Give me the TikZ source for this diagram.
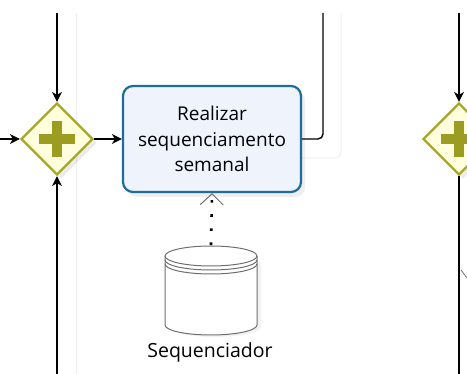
\documentclass[tikz,border=0pt]{standalone}
\usepackage{fontspec}
\setmainfont{Open Sans}
\usetikzlibrary{arrows.meta,shapes.geometric,shadows}
\definecolor{gwline}{RGB}{168,168,40}
\definecolor{gwfill}{RGB}{255,255,222}
\definecolor{gwplus}{RGB}{156,156,32}
\definecolor{taskline}{RGB}{30,108,156}
\definecolor{taskfill}{RGB}{239,243,252}
\definecolor{storeline}{RGB}{110,110,110}
\definecolor{ghost}{RGB}{238,238,238}
\tikzset{
  flow/.style={line width=1.4pt, black, -{Stealth[length=10pt,width=10pt,inset=3pt]}},
  plainflow/.style={line width=1.4pt, black},
  gateway/.style={diamond, draw=gwline, fill=gwfill, line width=2.2pt,
    minimum width=72pt, minimum height=72pt, inner sep=0pt,
    drop shadow={opacity=0.15, shadow xshift=4pt, shadow yshift=-4pt}},
  taskbox/.style={draw=taskline, fill=taskfill, line width=2.2pt, rounded corners=10pt,
    minimum width=178pt, minimum height=106pt, align=center, font=\fontsize{19}{25.5}\selectfont,
    drop shadow={opacity=0.13, shadow xshift=4pt, shadow yshift=-5pt}},
  assoc/.style={line width=2.6pt, dash pattern=on 2.6pt off 11.5pt,
    -{Straight Barb[length=11pt,width=23pt,line width=1pt,color=storeline]}},
  lbl/.style={font=\fontsize{19.5}{22}\selectfont, inner sep=0pt}
}
\newcommand{\gwplus}[1]{%
  \fill[gwplus] ([xshift=-18pt,yshift=-5pt]#1) rectangle ([xshift=18pt,yshift=5pt]#1);
  \fill[gwplus] ([xshift=-5pt,yshift=-18pt]#1) rectangle ([xshift=5pt,yshift=18pt]#1);}
\begin{document}
\begin{tikzpicture}[x=1pt,y=-1pt]
\useasboundingbox (0,0) rectangle (467,374);

% faint background guide lines
\draw[ghost, line width=1pt] (76,13) -- (76,374);
\draw[ghost, line width=1pt, rounded corners=6pt] (341,13) -- (341,158) -- (300,158);

% flow elements
\node[gateway] (g1) at (57,139) {};
\gwplus{g1.center}
\node[taskbox] (task) at (212,139) {Realizar\\sequenciamento\\semanal};
\node[gateway] (g2) at (459,139) {};
\gwplus{g2.center}

% data store: a cylinder with two extra rings below its lid
\fill[gray, opacity=0.10] (169,262) -- (169,327) arc[start angle=180, end angle=0, x radius=46, y radius=10]
  -- (261,262) -- cycle;
\filldraw[storeline, fill=white, line width=1pt]
  (165,256) -- (165,325) arc[start angle=180, end angle=0, x radius=46, y radius=10]
  -- (257,256) arc[start angle=0, end angle=-180, x radius=46, y radius=10] -- cycle;
\draw[storeline, line width=1pt] (165,256) arc[start angle=180, end angle=0, x radius=46, y radius=10];
\draw[storeline, line width=1pt] (165,260) arc[start angle=180, end angle=0, x radius=46, y radius=10];
\draw[storeline, line width=1pt] (165,264) arc[start angle=180, end angle=0, x radius=46, y radius=10];
\coordinate (store) at (211,245);
\node[lbl] (storelbl) at (210,352) {Sequenciador};

% connectors
\coordinate (inleft) at (0,139);
\coordinate (topA) at (57,13);
\coordinate (botA) at (57,374);
\coordinate (topB) at (323,13);
\coordinate (topC) at (459,13);
\coordinate (botC) at (459,374);
\draw[flow] (topA) -- (g1.north);
\draw[flow] (botA) -- (g1.south);
\draw[flow] (inleft) -- (g1.west);
\draw[flow] (g1.east) -- (task.west);
\draw[plainflow, rounded corners=5pt] (task.east) -- (task.east -| topB) -- (topB);
\draw[flow] (topC) -- (g2.north);
\draw[plainflow] (g2.south) -- (botC);
\coordinate (tickA) at (461,270);
\coordinate (tickB) at (467,278);
\draw[storeline, line width=0.8pt] (tickA) -- (tickB);
\draw[assoc] (store) -- (task.south);
\end{tikzpicture}
\end{document}
